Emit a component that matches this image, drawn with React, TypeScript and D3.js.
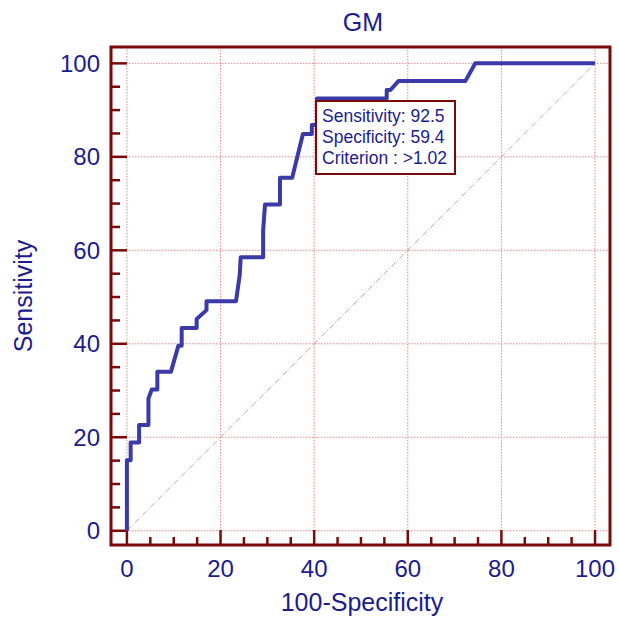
import React from 'react';
import * as d3 from 'd3';

// ROC curve vertices (100-Specificity, Sensitivity)
const fpr = [0, 0, 0.8, 0.8, 2.6, 2.6, 4.6, 4.6, 5.3, 6.5, 6.5, 9.4, 11.0, 11.7, 11.7, 14.9, 14.9, 17.0, 17.0, 23.3, 24.1, 24.3, 29.1, 29.1, 29.5, 32.7, 32.7, 35.3, 37.6, 39.5, 39.5, 40.6, 40.6, 55.5, 55.5, 56.3, 58.0, 72.3, 74.4, 100];
const tpr = [0, 15.1, 15.1, 18.9, 18.9, 22.6, 22.6, 28.3, 30.2, 30.2, 34.0, 34.0, 39.6, 39.6, 43.4, 43.4, 45.3, 47.2, 49.1, 49.1, 54.7, 58.5, 58.5, 64.2, 69.8, 69.8, 75.5, 75.5, 84.9, 84.9, 86.8, 86.8, 92.5, 92.5, 94.3, 94.3, 96.2, 96.2, 100, 100];

const majorTicks = [0, 20, 40, 60, 80, 100];
const minorTicks = [5, 10, 15, 25, 30, 35, 45, 50, 55, 65, 70, 75, 85, 90, 95];
const tooltipLines = ['Sensitivity: 92.5', 'Specificity: 59.4', 'Criterion : >1.02'];

const title = 'GM';
const xTitle = '100-Specificity';
const yTitle = 'Sensitivity';

const W = 619;
const H = 618;
const frame = { left: 111, right: 610, top: 47, bottom: 545 };

const frameColor = '#7a0a0a';
const textColor = '#1c1c8e';
const curveColor = '#3a3aa8';
const gridColor = '#dd8a8a';
const font = '"Liberation Sans", Arial, sans-serif';

export default function App() {
    const x = d3.scaleLinear().domain([-3.4, 103.2]).range([frame.left, frame.right]);
    const y = d3.scaleLinear().domain([-3.05, 103.5]).range([frame.bottom, frame.top]);

    const pts: [number, number][] = fpr.map((v, i) => [v, tpr[i]]);
    const line = d3
        .line<[number, number]>()
        .x((d) => x(d[0]))
        .y((d) => y(d[1]));

    return (
        <svg
            width={W}
            height={H}
            style={{ position: 'absolute', left: 0, top: 0, background: '#fff' }}
            fontFamily={font}
        >
            <text x={363} y={31} textAnchor="middle" fontSize={25} fill={textColor}>
                {title}
            </text>

            {/* grid */}
            {majorTicks.map((t) => (
                <g key={'g' + t}>
                    <line
                        x1={frame.left}
                        x2={frame.right}
                        y1={y(t)}
                        y2={y(t)}
                        stroke={gridColor}
                        strokeWidth={1}
                        strokeDasharray="1.5,1.5"
                    />
                    <line
                        x1={x(t)}
                        x2={x(t)}
                        y1={frame.top}
                        y2={frame.bottom}
                        stroke={gridColor}
                        strokeWidth={1}
                        strokeDasharray="1.5,1.5"
                    />
                </g>
            ))}

            {/* diagonal reference */}
            <line
                x1={x(0)}
                y1={y(0)}
                x2={x(100)}
                y2={y(100)}
                stroke="#c48888"
                strokeWidth={0.8}
                strokeDasharray="6,2,1,2"
            />

            {/* ticks */}
            {majorTicks.map((t) => (
                <g key={'mt' + t}>
                    <line x1={x(t)} x2={x(t)} y1={frame.bottom} y2={frame.bottom - 15} stroke={frameColor} strokeWidth={2.5} />
                    <line x1={frame.left} x2={frame.left + 16} y1={y(t)} y2={y(t)} stroke={frameColor} strokeWidth={2.5} />
                    <text x={x(t)} y={577} textAnchor="middle" fontSize={24} fill={textColor}>
                        {t}
                    </text>
                    <text x={100} y={y(t) + 8.5} textAnchor="end" fontSize={24} fill={textColor}>
                        {t}
                    </text>
                </g>
            ))}
            {minorTicks.map((t) => (
                <g key={'nt' + t}>
                    <line x1={x(t)} x2={x(t)} y1={frame.bottom} y2={frame.bottom - 8} stroke={frameColor} strokeWidth={2.5} />
                    <line x1={frame.left} x2={frame.left + 9} y1={y(t)} y2={y(t)} stroke={frameColor} strokeWidth={2.5} />
                </g>
            ))}

            {/* ROC curve */}
            <path d={line(pts) || ''} fill="none" stroke={curveColor} strokeWidth={4} strokeLinejoin="round" />

            {/* frame */}
            <rect
                x={frame.left}
                y={frame.top}
                width={frame.right - frame.left}
                height={frame.bottom - frame.top}
                fill="none"
                stroke={frameColor}
                strokeWidth={3}
            />

            {/* tooltip */}
            <rect x={316} y={101} width={139} height={73} fill="#fff" stroke={frameColor} strokeWidth={2} />
            {tooltipLines.map((s, i) => (
                <text key={s} x={322} y={122 + i * 21} fontSize={17.5} fill={textColor}>
                    {s}
                </text>
            ))}

            {/* axis titles */}
            <text x={362} y={611} textAnchor="middle" fontSize={25} fill={textColor}>
                {xTitle}
            </text>
            <text
                transform={`translate(32, ${(frame.top + frame.bottom) / 2}) rotate(-90)`}
                textAnchor="middle"
                fontSize={25}
                fill={textColor}
            >
                {yTitle}
            </text>
        </svg>
    );
}
